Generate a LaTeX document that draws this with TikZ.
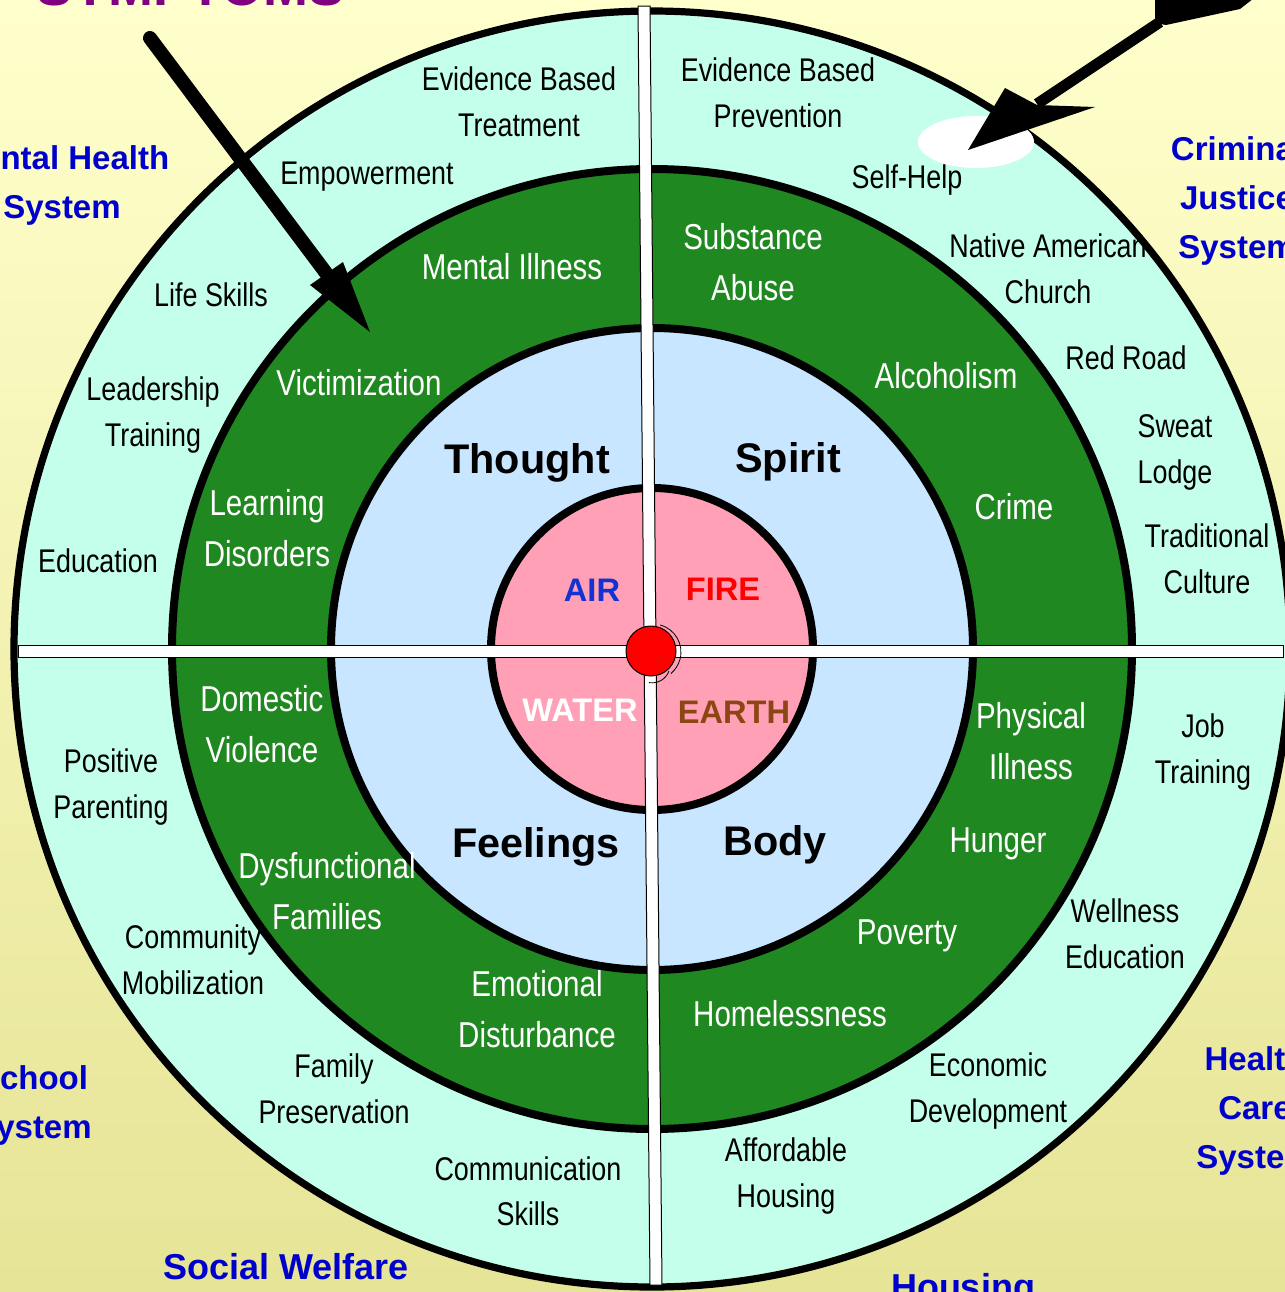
\documentclass[tikz,border=0pt]{standalone}
\usepackage{fontspec}
\setmainfont{Liberation Sans}
\newfontfamily\narrowfont[FakeStretch=0.82]{Liberation Sans}
\definecolor{bgtop}{RGB}{255,255,204}
\definecolor{bgbot}{RGB}{230,228,150}
\definecolor{mint}{RGB}{196,255,236}
\definecolor{ringgreen}{RGB}{32,136,32}
\definecolor{skyfill}{RGB}{200,230,255}
\definecolor{pinkfill}{RGB}{255,160,182}
\definecolor{sysblue}{RGB}{0,0,204}
\definecolor{airblue}{RGB}{20,50,210}
\definecolor{earthbrown}{RGB}{140,70,20}
\definecolor{symppurple}{RGB}{128,0,128}
\begin{document}
\begin{tikzpicture}[x=0.5pt,y=-0.5pt,
  outerlbl/.style={font=\narrowfont\fontsize{16.4}{23}\selectfont, align=center, inner sep=0pt,
    execute at begin node=\strut, execute at end node=\strut},
  greenlbl/.style={font=\narrowfont\fontsize{18}{25.5}\selectfont, text=white, align=center, inner sep=0pt,
    execute at begin node=\strut, execute at end node=\strut},
  quadlbl/.style={font=\bfseries\fontsize{20.7}{25}\selectfont, inner sep=0pt,
    execute at begin node=\strut},
  elemlbl/.style={font=\bfseries\fontsize{16.3}{21}\selectfont, inner sep=0pt,
    execute at begin node=\strut},
  syslbl/.style={font=\bfseries\fontsize{16.5}{24.5}\selectfont, text=sysblue, align=center, inner sep=0pt,
    execute at begin node=\strut, execute at end node=\strut},
  syslblbig/.style={syslbl, font=\bfseries\fontsize{18}{25}\selectfont},
  ringline/.style={draw=black, line width=4pt},
  arrowfill/.style={fill=black},
]
\useasboundingbox (0,0) rectangle (1285,1292);
\clip (0,0) rectangle (1285,1292);
\shade[top color=bgtop, bottom color=bgbot] (0,0) rectangle (1285,1292);

% title fragment at top
\node[font=\bfseries\fontsize{27}{30}\selectfont, text=symppurple, anchor=base west, inner sep=0pt] (symp) at (36,5) {SYMPTOMS};

% rings
\coordinate (ctr) at (652,649);
\filldraw[fill=mint, draw=black, line width=3.6pt] (ctr) circle[radius=638];
\filldraw[fill=ringgreen, ringline] (ctr) circle[radius=480];
\filldraw[fill=skyfill, ringline] (ctr) circle[radius=321];
\filldraw[fill=pinkfill, ringline] (ctr) circle[radius=161];

% cross bars
\filldraw[fill=white, draw=black, line width=0.5pt] (18,645) rectangle (1283,657);
\filldraw[fill=white, draw=black, line width=0.5pt] (638,6) -- (650,6) -- (662,1285) -- (650,1285) -- cycle;

% hub
\node[circle, fill=red, draw=black, line width=0.5pt, minimum size=25pt, inner sep=0pt] (hub) at (651,651) {};
\draw[line width=0.4pt] (660.2,625) arc[start angle=-75, end angle=50, radius=28];
\draw[line width=0.4pt] (669,671) arc[start angle=20, end angle=100, radius=18];

% white ellipse
\fill[white] (976,142) ellipse[x radius=58, y radius=26];

% left arrow
\coordinate (lastart) at (150,38);
\coordinate (labase) at (326,273);
\draw[line width=7pt, line cap=round] (lastart) -- (labase);
\fill[arrowfill] (370,332) -- (310,285) -- (343,262) -- cycle;

% right arrow
\coordinate (rastart) at (1160,22);
\coordinate (rabase) at (1037,104);
\draw[line width=5.5pt] (rastart) -- (rabase);
\fill[arrowfill] (968,150) -- (1005,88) -- (1037,105) -- (1095,107) -- (1033,128) -- cycle;
\fill[arrowfill] (1155,-5) -- (1155,23) -- (1166,25) -- (1240,9) -- (1258,-5) -- cycle;

% system labels
\node[syslbl] (mhs) at (62,189) {Mental Health\\System};
\node[syslbl] (cjs) at (1237,205) {Criminal\\Justice\\System};
\node[syslbl] (sch) at (33,1109) {School\\System};
\node[syslbl] (hcs) at (1255,1115) {Health\\Care\\System};
\node[syslblbig] (swf) at (286,1269) {Social Welfare};
\node[syslblbig] (hou) at (963,1289) {Housing};

% outer ring labels
\node[outerlbl] (ebt) at (519,109) {Evidence Based\\Treatment};
\node[outerlbl] (emp) at (367,175) {Empowerment};
\node[outerlbl] (ebp) at (778,99.5) {Evidence Based\\Prevention};
\node[outerlbl] (slf) at (907,179) {Self-Help};
\node[outerlbl] (nac) at (1048,275.5) {Native American\\Church};
\node[outerlbl] (rrd) at (1126,360) {Red Road};
\node[outerlbl] (swl) at (1175,455.5) {Sweat\\Lodge};
\node[outerlbl] (trc) at (1207,566) {Traditional\\Culture};
\node[outerlbl] (lsk) at (211,297) {Life Skills};
\node[outerlbl] (ldt) at (153,419) {Leadership\\Training};
\node[outerlbl] (edu) at (98,563) {Education};
\node[outerlbl] (pos) at (111,790.5) {Positive\\Parenting};
\node[outerlbl] (cmm) at (193,967) {Community\\Mobilization};
\node[outerlbl] (fam) at (334,1095.5) {Family\\Preservation};
\node[outerlbl] (com) at (528,1198) {Communication\\Skills};
\node[outerlbl] (aff) at (786,1179.5) {Affordable\\Housing};
\node[outerlbl] (eco) at (988,1094.5) {Economic\\Development};
\node[outerlbl] (wel) at (1125,940.5) {Wellness\\Education};
\node[outerlbl] (job) at (1203,756) {Job\\Training};

% green ring labels
\node[greenlbl] (mil) at (512,269) {Mental Illness};
\node[greenlbl] (sub) at (753,269.5) {Substance\\Abuse};
\node[greenlbl] (vic) at (359,385) {Victimization};
\node[greenlbl] (alc) at (946,378) {Alcoholism};
\node[greenlbl] (lrn) at (267,536) {Learning\\Disorders};
\node[greenlbl] (crm) at (1014,509) {Crime};
\node[greenlbl] (dom) at (262,732) {Domestic\\Violence};
\node[greenlbl] (phy) at (1031,748.5) {Physical\\Illness};
\node[greenlbl] (hun) at (998,842) {Hunger};
\node[greenlbl] (dys) at (327,898.5) {Dysfunctional\\Families};
\node[greenlbl] (pov) at (907,934) {Poverty};
\node[greenlbl] (emo) at (537,1016.5) {Emotional\\Disturbance};
\node[greenlbl] (hml) at (790,1016) {Homelessness};

% quadrant labels
\node[quadlbl] (tho) at (527,463) {Thought};
\node[quadlbl] (spi) at (788,462) {Spirit};
\node[quadlbl] (fee) at (536,847) {Feelings};
\node[quadlbl] (bod) at (775,845) {Body};

% element labels
\node[elemlbl, text=airblue] (air) at (592,593) {AIR};
\node[elemlbl, text=red] (fir) at (723,592) {FIRE};
\node[elemlbl, text=white] (wat) at (580,713) {WATER};
\node[elemlbl, text=earthbrown] (ear) at (734,715) {EARTH};
\end{tikzpicture}
\end{document}
